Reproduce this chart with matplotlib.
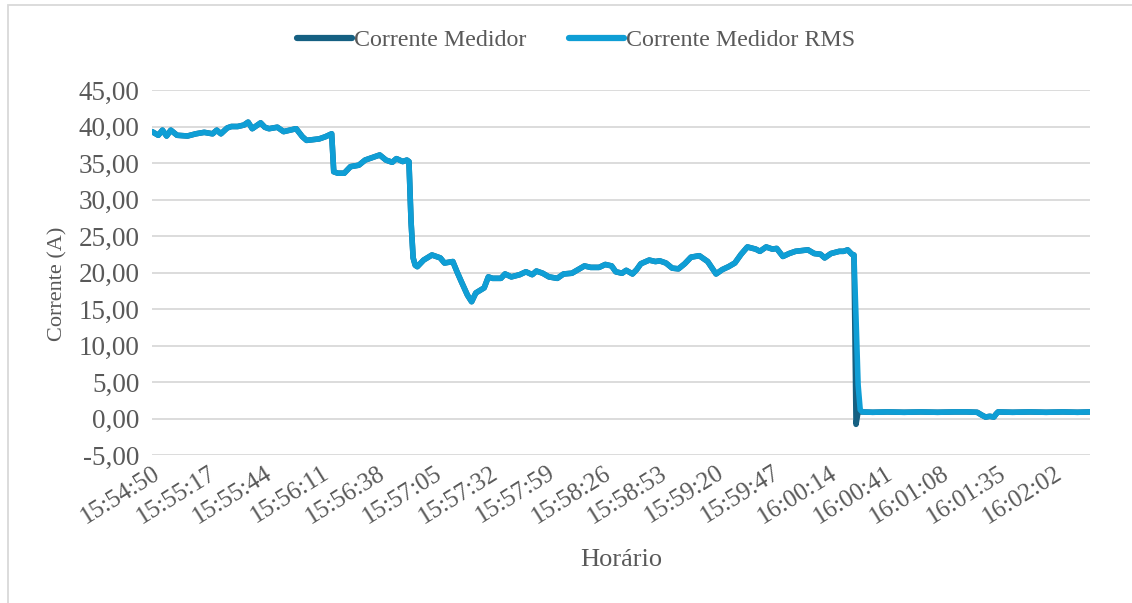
import matplotlib
matplotlib.use("Agg")
import matplotlib.pyplot as plt
from matplotlib.patches import Rectangle

plt.rcParams['font.family'] = ['Liberation Serif', 'DejaVu Serif']

# segundos desde 15:54:50 e corrente (A)
tempo_s = [0, 3, 5, 7, 9, 12, 17, 21, 25, 29, 31, 33, 36, 38, 41, 44, 46, 48, 52, 54,
           56, 60, 63, 66, 69, 72, 74, 77, 80, 83, 86, 87, 89, 92, 95, 99, 102, 106, 109, 112,
           115, 117, 120, 122, 123, 124, 125, 126, 127, 130, 134, 138, 140, 144, 146, 148, 151, 153, 155, 159,
           161, 163, 167, 169, 172, 176, 179, 182, 184, 187, 190, 194, 197, 201, 204, 207, 210, 214, 217, 220,
           222, 225, 227, 230, 232, 234, 238, 241, 243, 246, 249, 252, 255, 258, 262, 266, 270, 273, 276, 279,
           282, 285, 289, 291, 294, 297, 299, 302, 305, 308, 311, 314, 317, 320, 322, 325, 329, 331, 333, 335,
           336, 337, 338, 339, 340, 345, 352, 360, 368, 376, 384, 390, 395, 397, 399, 401, 403, 404, 405, 412,
           420, 428, 436, 443, 449]
corrente_rms = [39.3, 38.8, 39.5, 38.7, 39.5, 38.8, 38.7, 39.0, 39.2, 39.0, 39.5, 39.0, 39.8, 40.0, 40.0, 40.2, 40.6, 39.7, 40.5, 39.9,
                39.7, 39.9, 39.3, 39.5, 39.7, 38.6, 38.1, 38.2, 38.3, 38.6, 39.0, 33.8, 33.6, 33.6, 34.5, 34.7, 35.4, 35.8, 36.1, 35.4,
                35.1, 35.6, 35.2, 35.4, 35.2, 27.0, 22.0, 21.0, 20.8, 21.7, 22.4, 22.0, 21.3, 21.5, 20.1, 18.8, 16.9, 16.0, 17.2, 17.9,
                19.4, 19.2, 19.2, 19.8, 19.4, 19.7, 20.1, 19.7, 20.2, 19.9, 19.4, 19.2, 19.8, 19.9, 20.4, 20.9, 20.7, 20.7, 21.1, 20.9,
                20.1, 19.9, 20.3, 19.8, 20.4, 21.2, 21.7, 21.5, 21.6, 21.3, 20.6, 20.5, 21.2, 22.1, 22.3, 21.5, 19.8, 20.4, 20.8, 21.3,
                22.5, 23.5, 23.2, 22.9, 23.5, 23.2, 23.3, 22.2, 22.6, 22.9, 23.0, 23.1, 22.6, 22.5, 22.0, 22.6, 22.9, 22.9, 23.1, 22.5,
                22.4, 13.8, 4.6, 1.2, 0.9, 0.85, 0.9, 0.85, 0.9, 0.85, 0.9, 0.9, 0.85, 0.5, 0.2, 0.3, 0.2, 0.6, 0.9, 0.85,
                0.9, 0.85, 0.9, 0.85, 0.9]
# leitura instantanea difere da RMS apenas no desligamento
transicao_medidor = {337: -0.8, 338: 0.9, 339: 0.9}
corrente_medidor = [transicao_medidor.get(t, v) for t, v in zip(tempo_s, corrente_rms)]

rotulos_x = ['15:54:50', '15:55:17', '15:55:44', '15:56:11', '15:56:38', '15:57:05',
             '15:57:32', '15:57:59', '15:58:26', '15:58:53', '15:59:20', '15:59:47',
             '16:00:14', '16:00:41', '16:01:08', '16:01:35', '16:02:02']
ticks_y = [-5, 0, 5, 10, 15, 20, 25, 30, 35, 40, 45]

cinza = '#595959'
fig = plt.figure(figsize=(11.32, 6.03), dpi=100)
ax = fig.add_axes([152/1132, 1-455/603, (1090-152)/1132, (455-90)/603])

ax.plot(tempo_s, corrente_medidor, color='#156082', lw=4.0, label='Corrente Medidor',
        solid_joinstyle='round', solid_capstyle='round')
ax.plot(tempo_s, corrente_rms, color='#0F9ED5', lw=4.0, label='Corrente Medidor RMS',
        solid_joinstyle='round', solid_capstyle='round')

ax.set_xlim(0, 449)
ax.set_ylim(-5, 45)
ax.set_yticks(ticks_y)
ax.set_yticklabels([f'{v:.2f}'.replace('.', ',') for v in ticks_y], fontsize=19.5)
ax.set_xticks([27*i for i in range(len(rotulos_x))])
ax.set_xticklabels(rotulos_x, rotation=32, ha='right', va='top', rotation_mode='anchor',
                   fontsize=18)
ax.tick_params(axis='both', length=0, colors=cinza)
ax.tick_params(axis='y', pad=9)
ax.tick_params(axis='x', pad=5)
ax.grid(axis='y', color='#D9D9D9', lw=1.3)
ax.set_axisbelow(True)
for s in ax.spines.values():
    s.set_visible(False)

fig.text(58/1132, 1-284/603, 'Corrente (A)', color=cinza, fontsize=16, rotation=90,
         ha='center', va='center')
fig.text(621/1132, 1-560/603, 'Horário', color=cinza, fontsize=19, ha='center', va='center')

fig.legend(loc='center', bbox_to_anchor=(576/1132, 1-40/603), ncol=2, frameon=False,
           fontsize=17.3, labelcolor=cinza, handlelength=2.3, handletextpad=0.1,
           columnspacing=1.75)
for h in fig.legends[0].get_lines():
    h.set_linewidth(4.5)

# borda da area do grafico
fig.patches.append(Rectangle((8/1132, -0.02), 1.0, 1-5/603+0.02, transform=fig.transFigure,
                             fill=False, edgecolor='#D9D9D9', lw=1.3))

fig.savefig('out.png', dpi=100)
